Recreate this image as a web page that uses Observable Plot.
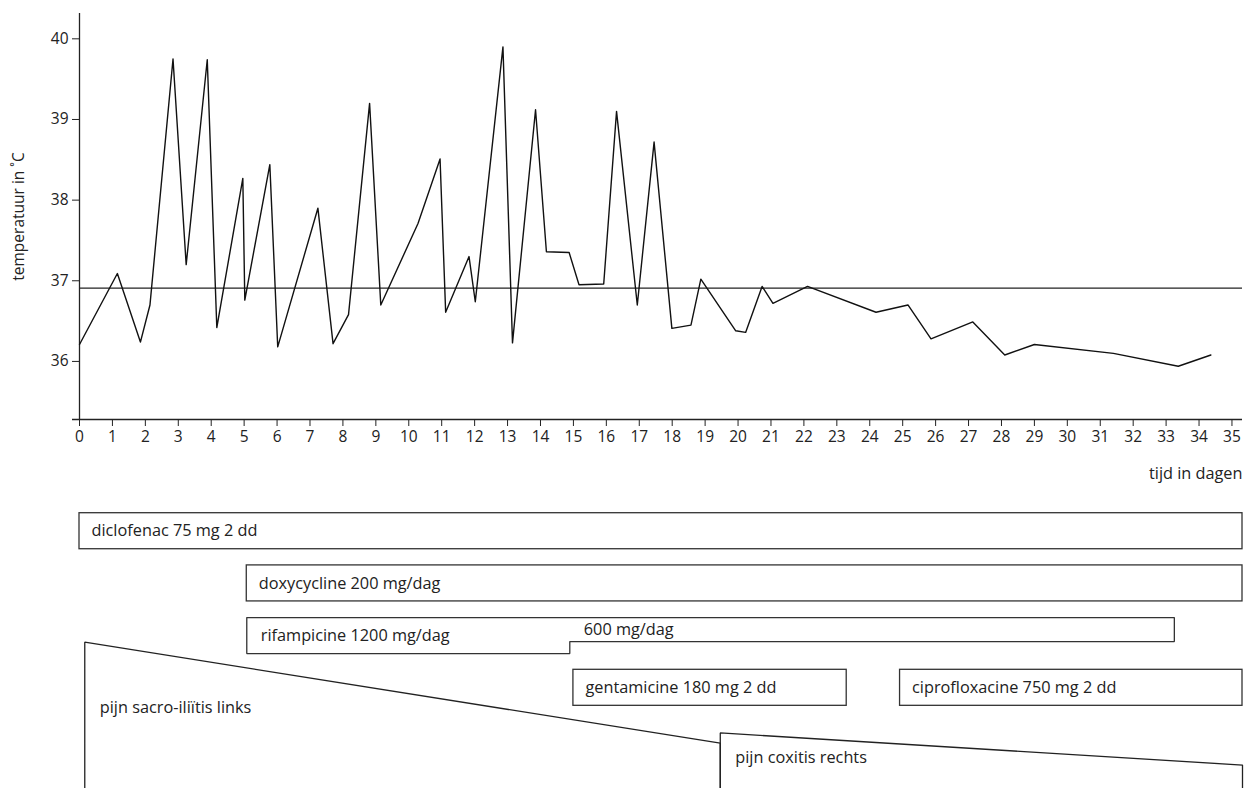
<!DOCTYPE html>
<html>
<head>
<meta charset="utf-8">
<script src="https://cdn.jsdelivr.net/npm/d3@7"></script>
<script src="https://cdn.jsdelivr.net/npm/@observablehq/plot@0.6"></script>
<style>
  body { margin: 0; background: #fff; }
  #chart svg { display: block; }
</style>
</head>
<body>
<div id="chart"></div>
<script>
// ---- temperature series (day, °C) ----
const days = [0, 1.15, 1.85, 2.14, 2.84, 3.24, 3.88, 4.17, 4.96, 5.02, 5.78, 6.02, 7.24, 7.70, 8.17, 8.81, 9.15, 10.28, 10.95, 11.12, 11.83, 12.02, 12.86, 13.15, 13.85, 14.18, 14.87, 15.17, 15.92, 16.31, 16.94, 17.45, 17.99, 18.57, 18.87, 19.93, 20.23, 20.73, 21.06, 22.11, 24.19, 25.16, 25.86, 27.13, 28.10, 29.0, 31.40, 33.37, 34.36];
const temps = [36.21, 37.09, 36.24, 36.70, 39.75, 37.20, 39.74, 36.42, 38.27, 36.76, 38.44, 36.18, 37.90, 36.22, 36.58, 39.20, 36.70, 37.71, 38.51, 36.61, 37.30, 36.74, 39.90, 36.23, 39.12, 37.36, 37.35, 36.95, 36.96, 39.10, 36.70, 38.72, 36.41, 36.45, 37.02, 36.38, 36.36, 36.93, 36.72, 36.93, 36.61, 36.70, 36.28, 36.49, 36.08, 36.21, 36.10, 35.94, 36.08];
const refTemp = 36.91;
const xTicks = d3.range(0, 36);
const yTicks = [36, 37, 38, 39, 40];
const xLabel = "tijd in dagen";
const yLabel = "temperatuur in \u02DAC";

// ---- medication (days) ----
const drugs = ["diclofenac 75 mg 2 dd", "doxycycline 200 mg/dag", "gentamicine 180 mg 2 dd", "ciprofloxacine 750 mg 2 dd"];
const drugStart = [0, 5.08, 15.0, 24.92];
const drugEnd = [35.32, 35.32, 23.3, 35.32];
const drugRow = [0, 1, 3, 3];
const rifLabels = ["rifampicine 1200 mg/dag", "600 mg/dag"];
const rifStart = [5.08, 14.89];
const rifEnd = [14.89, 33.25];
const rifRow = 2;

// ---- pain (relative intensity) ----
const painLabels = ["pijn sacro-ili\u00EFtis links", "pijn coxitis rechts"];
const painStart = [0.16, 19.46];
const painEnd = [19.46, 35.32];
const painLevelStart = [100, 38];
const painLevelEnd = [31, 16];

// ---- layout ----
const W = 1247;
const xDomain = [0, 35.32];
const yDomain = [35.28, 40.314];
const FONT = "'Open Sans', sans-serif";
const INK = "#222";
const LABEL_SIZE = 16.3;

const temperature = days.map((d, i) => ({day: d, temp: temps[i]}));

const topChart = Plot.plot({
  width: W, height: 490,
  marginLeft: 79, marginRight: 5, marginTop: 13, marginBottom: 71,
  style: {fontFamily: FONT, fontSize: "15px", color: INK, background: "white"},
  x: {domain: xDomain},
  y: {domain: yDomain},
  marks: [
    Plot.ruleY([yDomain[0]], {insetLeft: -7, stroke: INK, strokeWidth: 1.3}),
    Plot.ruleX([0], {stroke: INK, strokeWidth: 1.3}),
    Plot.axisX(xTicks, {tickSize: 7, tickPadding: 4, fontSize: 15.5, label: null, tickFormat: d => d}),
    Plot.axisY(yTicks, {tickSize: 7, tickPadding: 4, fontSize: 15.5, label: null, tickFormat: d => d}),
    Plot.ruleY([refTemp], {stroke: INK, strokeWidth: 1.2}),
    Plot.line(temperature, {x: "day", y: "temp", stroke: "#111", strokeWidth: 1.4}),
    Plot.text([xLabel], {text: d => d, frameAnchor: "bottom-right", textAnchor: "end", lineAnchor: "bottom", dy: 59, fontSize: 16.3}),
    Plot.text([yLabel], {text: d => d, frameAnchor: "left", textAnchor: "middle", rotate: -90, dx: -60, fontSize: 15.5})
  ]
});

// lower panel: lanes in row units
const BAR = 0.69;
const LOW = [-0.435, 5.274];
const painK = 0.02803;
const bottom = LOW[1];

const bars = drugs.map((name, i) => ({name, x1: drugStart[i], x2: drugEnd[i], row: drugRow[i]}));
const rifOutline = [
  {x: rifStart[0], y: rifRow},
  {x: rifEnd[1], y: rifRow},
  {x: rifEnd[1], y: rifRow + BAR * 2 / 3},
  {x: rifStart[1], y: rifRow + BAR * 2 / 3},
  {x: rifStart[1], y: rifRow + BAR},
  {x: rifStart[0], y: rifRow + BAR},
  {x: rifStart[0], y: rifRow}
];
const rifText = [
  {name: rifLabels[0], x: rifStart[0], y: rifRow + BAR / 2},
  {name: rifLabels[1], x: rifStart[1], y: rifRow + BAR / 3}
];
const painPts = painLabels.flatMap((name, i) => [
  {name, x: painStart[i], y: bottom},
  {name, x: painStart[i], y: bottom - painLevelStart[i] * painK},
  {name, x: painEnd[i], y: bottom - painLevelEnd[i] * painK},
  {name, x: painEnd[i], y: bottom}
]);
const painText = painLabels.map((name, i) => {
  const t = bottom - painLevelStart[i] * painK;
  return {name, x: painStart[i], y: t + 0.45 * (bottom - t)};
});

const lowChart = Plot.plot({
  width: W, height: 298,
  marginLeft: 79, marginRight: 5, marginTop: 0, marginBottom: 0,
  style: {fontFamily: FONT, fontSize: "15px", color: INK, background: "white"},
  x: {domain: xDomain, axis: null},
  y: {domain: LOW, reverse: true, axis: null},
  marks: [
    Plot.rect(bars, {x1: "x1", x2: "x2", y1: "row", y2: d => d.row + BAR, fill: "white", stroke: "#333", strokeWidth: 1.3}),
    Plot.line(rifOutline, {x: "x", y: "y", stroke: "#333", strokeWidth: 1.3, strokeLinejoin: "miter"}),
    Plot.line(painPts, {x: "x", y: "y", z: "name", stroke: "#222", strokeWidth: 1.3, strokeLinejoin: "miter"}),
    Plot.text(bars, {x: "x1", y: d => d.row + BAR / 2, text: "name", textAnchor: "start", dx: 12, fontSize: LABEL_SIZE}),
    Plot.text(rifText, {x: "x", y: "y", text: "name", textAnchor: "start", dx: 14, fontSize: LABEL_SIZE}),
    Plot.text(painText, {x: "x", y: "y", text: "name", textAnchor: "start", dx: 15, fontSize: LABEL_SIZE})
  ]
});

const host = document.getElementById("chart");
host.appendChild(topChart);
host.appendChild(lowChart);
</script>
</body>
</html>
